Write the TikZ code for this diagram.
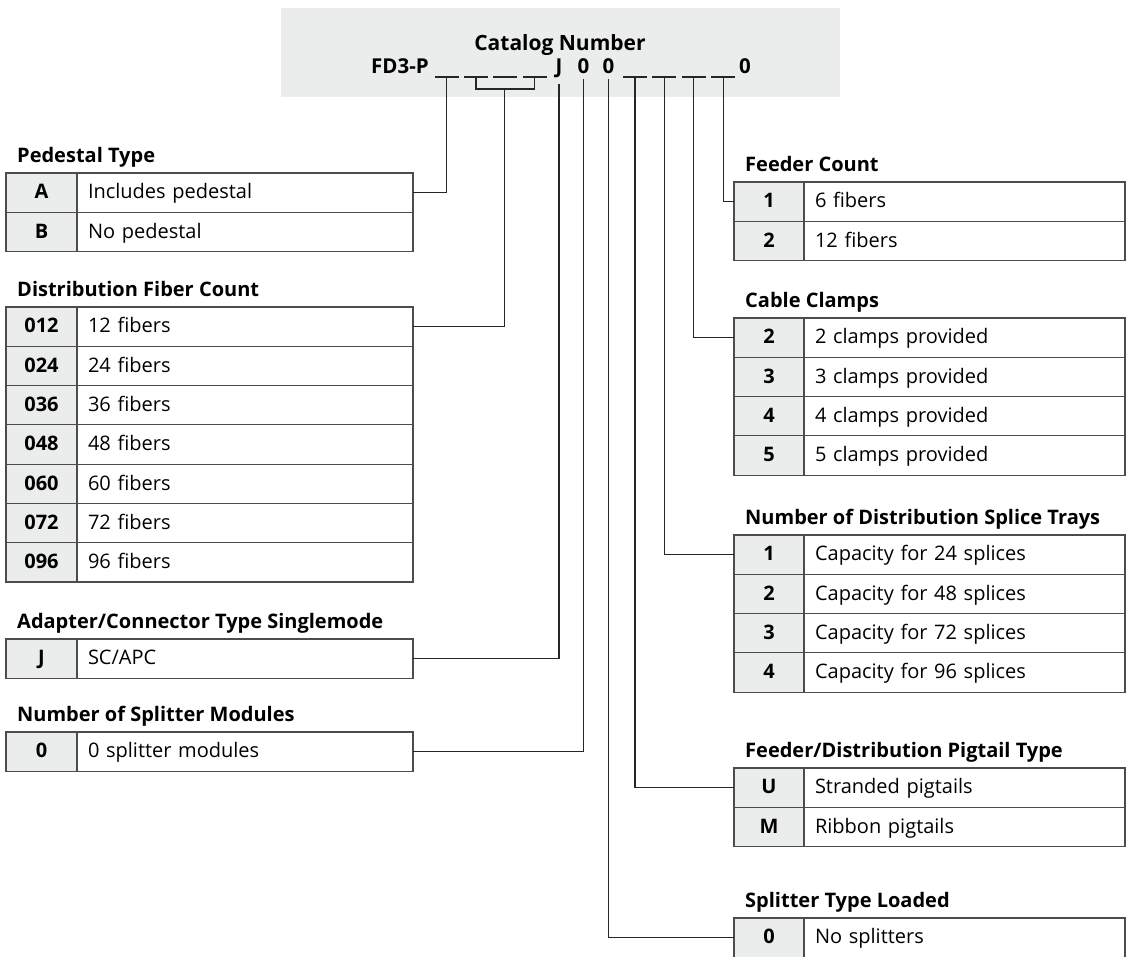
\documentclass[tikz,border=0pt]{standalone}
\usepackage{fontspec}
\setmainfont{Open Sans}
\usetikzlibrary{positioning}
\definecolor{cellgray}{RGB}{235,236,236}

\begin{document}
\begin{tikzpicture}[x=1pt, y=-1pt,
font=\fontsize{20}{24}\selectfont,
keyL/.style={rectangle, draw=black!70, fill=cellgray, line width=1.2pt, outer sep=0pt, minimum width=71pt, minimum height=39.3pt, text height=1.25em, text depth=0pt, font=\fontsize{20}{24}\selectfont\bfseries},
valL/.style={rectangle, draw=black!70, line width=1.2pt, outer sep=0pt, inner xsep=11pt, text width=314pt, minimum height=39.3pt, text height=1.25em, text depth=0pt, align=left},
keyR/.style={keyL, minimum width=70pt},
valR/.style={valL, text width=299pt},
title/.style={inner sep=0pt, text depth=0pt, font=\fontsize{20}{24}\selectfont\bfseries},
slot/.style={rectangle, fill=black!85, inner sep=0pt, minimum width=24pt, minimum height=1.2pt},
catchar/.style={anchor=base, inner xsep=1pt, inner ysep=6pt, font=\fontsize{20.5}{24}\selectfont\bfseries},
link/.style={draw=black!85, line width=1.2pt},
]
\useasboundingbox (0,0) rectangle (1129,956);

%Catalog number
\fill[cellgray] (281,8) rectangle (840,97);
\node[catchar, font=\fontsize{21}{24}\selectfont\bfseries] (catT) at (560,50) {Catalog Number};
\node[catchar, anchor=base east] (fd3) at (430,73) {FD3-P};
\node[slot] (s1) at (446.5,77) {};
\node[slot] (s2) [right=5pt of s1] {};
\node[slot] (s3) [right=5pt of s2] {};
\node[slot] (s4) [right=5pt of s3] {};
\node[catchar] (cJ) at (559,73) {J};
\node[catchar] (c0a) at (583.5,73) {0};
\node[catchar] (c0b) at (608.5,73) {0};
\node[slot] (s5) at (635,77) {};
\node[slot] (s6) [right=5pt of s5] {};
\node[slot] (s7) [right=5pt of s6] {};
\node[slot] (s8) [right=5pt of s7] {};
\node[catchar] (c0c) at (745,73) {0};
\coordinate (brk) at (504.5,89);

%Pedestal Type
\node[keyL] (pedA) at (41.5,192.6) {A};
\node[valL] (pedAv) [right=0pt of pedA] {Includes pedestal};
\node[keyL] (pedB) [below=0pt of pedA] {B};
\node[valL] (pedBv) [right=0pt of pedB] {No pedestal};
\node[title] (pedT) [above right=10pt and 11pt of pedA.north west] {Pedestal Type};

%Distribution Fiber Count
\node[keyL] (dist1) at (41.5,326.6) {012};
\node[valL] (dist1v) [right=0pt of dist1] {12 fibers};
\node[keyL] (dist2) [below=0pt of dist1] {024};
\node[valL] (dist2v) [right=0pt of dist2] {24 fibers};
\node[keyL] (dist3) [below=0pt of dist2] {036};
\node[valL] (dist3v) [right=0pt of dist3] {36 fibers};
\node[keyL] (dist4) [below=0pt of dist3] {048};
\node[valL] (dist4v) [right=0pt of dist4] {48 fibers};
\node[keyL] (dist5) [below=0pt of dist4] {060};
\node[valL] (dist5v) [right=0pt of dist5] {60 fibers};
\node[keyL] (dist6) [below=0pt of dist5] {072};
\node[valL] (dist6v) [right=0pt of dist6] {72 fibers};
\node[keyL] (dist7) [below=0pt of dist6] {096};
\node[valL] (dist7v) [right=0pt of dist7] {96 fibers};
\node[title] (distT) [above right=10pt and 11pt of dist1.north west] {Distribution Fiber Count};

%Adapter/Connector Type
\node[keyL] (adpJ) at (41.5,658.6) {J};
\node[valL] (adpJv) [right=0pt of adpJ] {SC/APC};
\node[title] (adpT) [above right=10pt and 11pt of adpJ.north west] {Adapter/Connector Type Singlemode};

%Number of Splitter Modules
\node[keyL] (splm0) at (41.5,751.6) {0};
\node[valL] (splm0v) [right=0pt of splm0] {0 splitter modules};
\node[title] (splmT) [above right=10pt and 11pt of splm0.north west] {Number of Splitter Modules};

%Feeder Count
\node[keyR] (fdr1) at (769,201.6) {1};
\node[valR] (fdr1v) [right=0pt of fdr1] {6 fibers};
\node[keyR] (fdr2) [below=0pt of fdr1] {2};
\node[valR] (fdr2v) [right=0pt of fdr2] {12 fibers};
\node[title] (fdrT) [above right=10pt and 11pt of fdr1.north west] {Feeder Count};

%Cable Clamps
\node[keyR] (clp2) at (769,337.6) {2};
\node[valR] (clp2v) [right=0pt of clp2] {2 clamps provided};
\node[keyR] (clp3) [below=0pt of clp2] {3};
\node[valR] (clp3v) [right=0pt of clp3] {3 clamps provided};
\node[keyR] (clp4) [below=0pt of clp3] {4};
\node[valR] (clp4v) [right=0pt of clp4] {4 clamps provided};
\node[keyR] (clp5) [below=0pt of clp4] {5};
\node[valR] (clp5v) [right=0pt of clp5] {5 clamps provided};
\node[title] (clpT) [above right=10pt and 11pt of clp2.north west] {Cable Clamps};

%Number of Distribution Splice Trays
\node[keyR] (tray1) at (769,554.6) {1};
\node[valR] (tray1v) [right=0pt of tray1] {Capacity for 24 splices};
\node[keyR] (tray2) [below=0pt of tray1] {2};
\node[valR] (tray2v) [right=0pt of tray2] {Capacity for 48 splices};
\node[keyR] (tray3) [below=0pt of tray2] {3};
\node[valR] (tray3v) [right=0pt of tray3] {Capacity for 72 splices};
\node[keyR] (tray4) [below=0pt of tray3] {4};
\node[valR] (tray4v) [right=0pt of tray4] {Capacity for 96 splices};
\node[title] (trayT) [above right=10pt and 11pt of tray1.north west] {Number of Distribution Splice Trays};

%Feeder/Distribution Pigtail Type
\node[keyR] (pigU) at (769,787.6) {U};
\node[valR] (pigUv) [right=0pt of pigU] {Stranded pigtails};
\node[keyR] (pigM) [below=0pt of pigU] {M};
\node[valR] (pigMv) [right=0pt of pigM] {Ribbon pigtails};
\node[title] (pigT) [above right=10pt and 11pt of pigU.north west] {Feeder/Distribution Pigtail Type};

%Splitter Type Loaded
\node[keyR] (splt0) at (769,937.6) {0};
\node[valR] (splt0v) [right=0pt of splt0] {No splitters};
\node[title] (spltT) [above right=10pt and 11pt of splt0.north west] {Splitter Type Loaded};

%Lines
\draw[link] (s1) |- (pedAv.east);
\draw[link] (s2) |- (brk) -| (s4);
\draw[link] (brk) |- (dist1v.east);
\draw[link] (cJ) |- (adpJv.east);
\draw[link] (c0a) |- (splm0v.east);
\draw[link] (c0b) |- (splt0.west);
\draw[link] (s5) |- (pigU.west);
\draw[link] (s6) |- (tray1.west);
\draw[link] (s7) |- (clp2.west);
\draw[link] (s8) |- (fdr1.west);
\end{tikzpicture}
\end{document}
